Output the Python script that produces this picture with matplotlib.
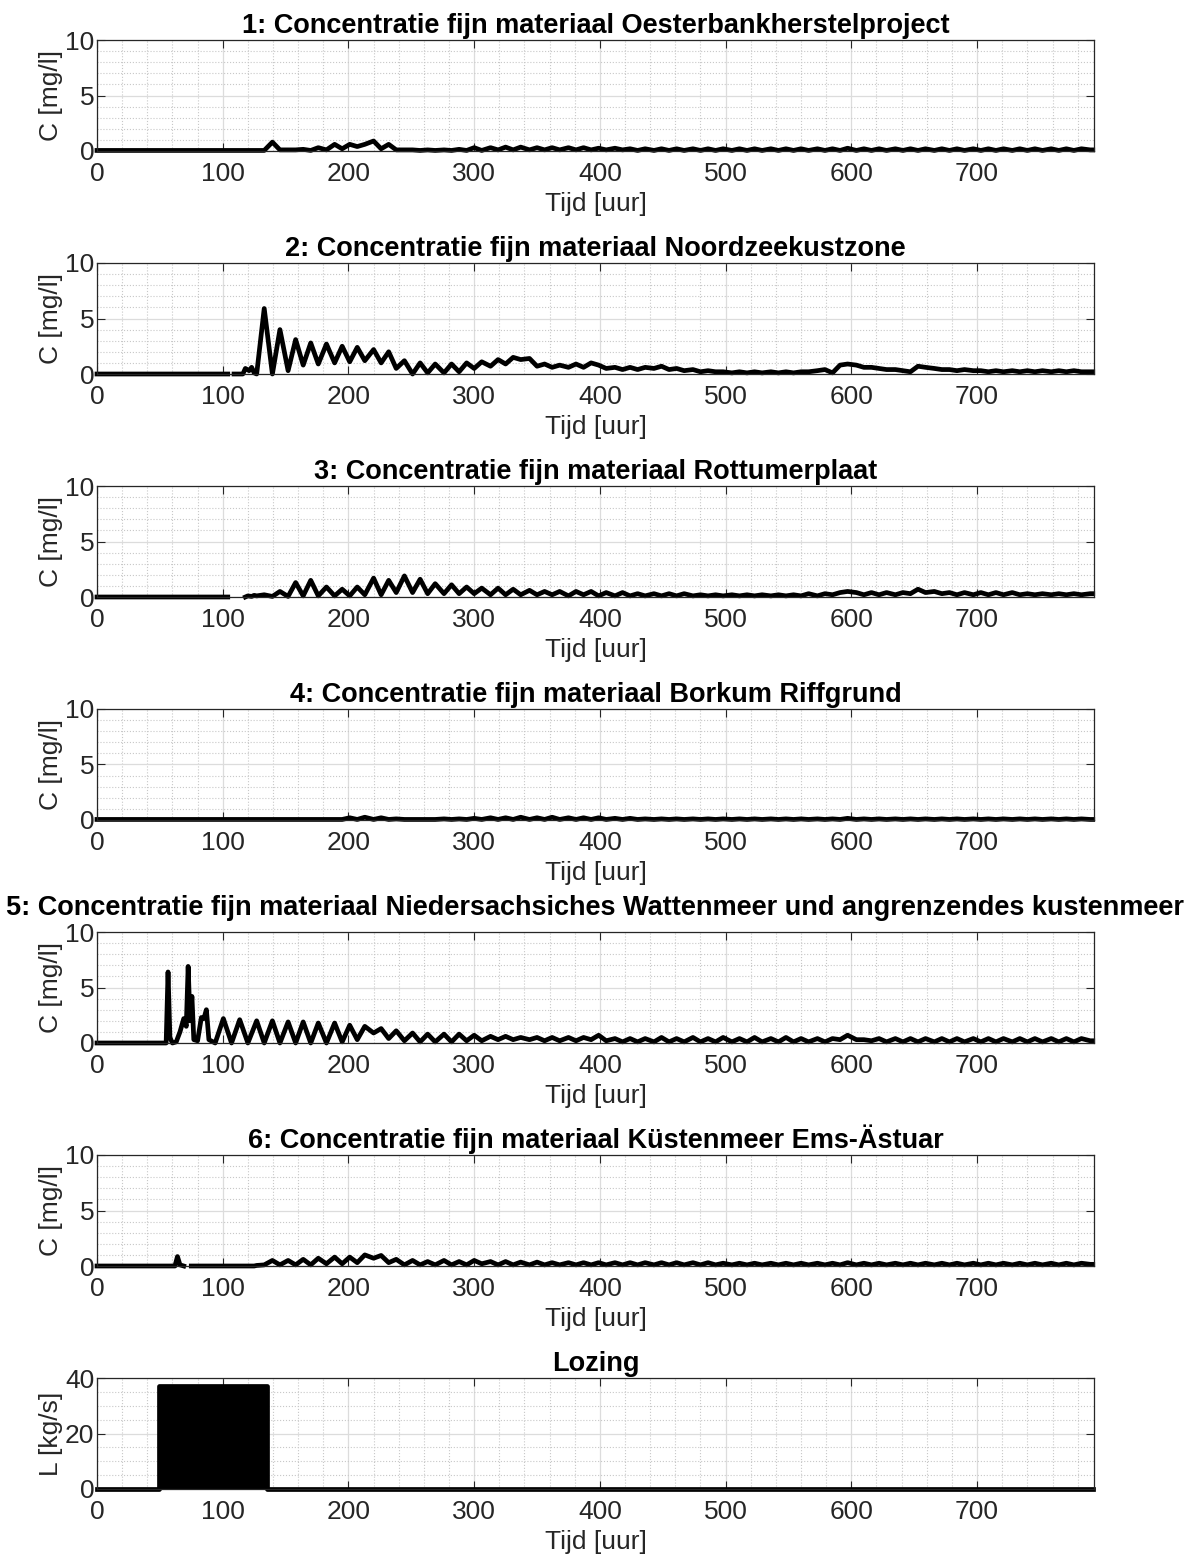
import numpy as np
import matplotlib
matplotlib.use('Agg')
import matplotlib.pyplot as plt
from matplotlib.ticker import MultipleLocator

plt.rcParams['font.family'] = ['Liberation Sans', 'DejaVu Sans']

# gedeelde tijdas (toppen en dalen van het getij), in uren
t_tide = [127, 133, 139.5, 145.5, 152, 158, 164, 170, 176, 182.5,
          189, 195, 201, 207, 213, 220, 226, 232, 238, 244.5,
          251, 257, 263, 269, 276, 282, 288, 294, 300, 306,
          313, 319, 325, 331, 337, 344, 350, 356, 362, 368,
          375, 381, 387, 393, 399, 405, 412, 418, 424, 430,
          436, 443, 449, 455, 461, 467, 474, 480, 486, 492,
          498, 505, 511, 517, 523, 529, 536, 542, 548, 554,
          560, 566, 573, 579, 585, 591, 597, 604, 610, 616,
          622, 628, 635, 641, 647, 653, 659, 666, 672, 678,
          684, 690, 697, 703, 709, 715, 721, 728, 734, 740,
          746, 752, 759, 765, 771, 777, 783, 790]

# 1: Oesterbankherstelproject
head1 = [(0, 0.05), (125, 0.05)]
c1 = [0.05, 0.05, 0.8, 0.1, 0.1, 0.1, 0.15, 0.05, 0.3, 0.1,
      0.6, 0.2, 0.6, 0.4, 0.6, 0.9, 0.2, 0.6, 0.1, 0.1,
      0.1, 0.05, 0.1, 0.05, 0.1, 0.05, 0.15, 0.05, 0.3, 0.05,
      0.3, 0.1, 0.35, 0.1, 0.35, 0.1, 0.3, 0.1, 0.3, 0.1,
      0.3, 0.1, 0.3, 0.1, 0.25, 0.1, 0.25, 0.1, 0.2, 0.05,
      0.2, 0.05, 0.2, 0.05, 0.2, 0.05, 0.2, 0.05, 0.2, 0.05,
      0.2, 0.05, 0.2, 0.05, 0.2, 0.05, 0.2, 0.05, 0.2, 0.05,
      0.2, 0.05, 0.2, 0.05, 0.2, 0.05, 0.25, 0.05, 0.2, 0.05,
      0.2, 0.05, 0.2, 0.05, 0.2, 0.05, 0.2, 0.05, 0.2, 0.05,
      0.2, 0.05, 0.2, 0.05, 0.2, 0.05, 0.2, 0.05, 0.2, 0.05,
      0.2, 0.05, 0.2, 0.05, 0.2, 0.05, 0.2, 0.1]

# 2: Noordzeekustzone
head2 = [(0, 0), (104, 0), (105, np.nan), (109, 0), (116, 0), (118, 0.5),
         (121, 0.3), (123, 0.6), (125, 0.1)]
c2 = [0.0, 5.9, 0.0, 4.0, 0.3, 3.1, 0.8, 2.8, 0.9, 2.7,
      1.0, 2.5, 1.1, 2.4, 1.2, 2.2, 1.0, 2.0, 0.5, 1.2,
      0.0, 1.0, 0.1, 0.9, 0.1, 0.9, 0.2, 1.0, 0.5, 1.1,
      0.7, 1.3, 0.9, 1.5, 1.3, 1.4, 0.7, 0.9, 0.6, 0.8,
      0.6, 0.9, 0.6, 1.0, 0.8, 0.5, 0.6, 0.4, 0.6, 0.4,
      0.6, 0.5, 0.7, 0.4, 0.5, 0.3, 0.4, 0.2, 0.3, 0.2,
      0.2, 0.1, 0.2, 0.1, 0.2, 0.1, 0.2, 0.1, 0.2, 0.1,
      0.2, 0.2, 0.3, 0.4, 0.1, 0.8, 0.9, 0.8, 0.6, 0.6,
      0.5, 0.4, 0.4, 0.3, 0.2, 0.7, 0.6, 0.5, 0.4, 0.4,
      0.3, 0.4, 0.3, 0.3, 0.2, 0.3, 0.2, 0.3, 0.2, 0.3,
      0.2, 0.3, 0.2, 0.3, 0.2, 0.3, 0.2, 0.2]

# 3: Rottumerplaat
head3 = [(0, 0), (104, 0), (105, np.nan), (107, 0), (110, np.nan), (113, 0),
         (115, np.nan), (118, 0), (120, 0.1), (123, 0.05), (125, 0.15)]
c3 = [0.1, 0.2, 0.05, 0.5, 0.05, 1.3, 0.1, 1.5, 0.1, 0.9,
      0.1, 0.7, 0.1, 0.9, 0.2, 1.7, 0.2, 1.5, 0.4, 1.9,
      0.4, 1.6, 0.3, 1.2, 0.3, 1.1, 0.3, 0.9, 0.3, 0.8,
      0.2, 0.8, 0.2, 0.7, 0.2, 0.6, 0.2, 0.5, 0.2, 0.5,
      0.1, 0.5, 0.2, 0.5, 0.1, 0.4, 0.1, 0.4, 0.1, 0.3,
      0.1, 0.3, 0.1, 0.3, 0.1, 0.3, 0.1, 0.2, 0.1, 0.2,
      0.1, 0.2, 0.1, 0.2, 0.1, 0.2, 0.1, 0.2, 0.1, 0.2,
      0.1, 0.3, 0.1, 0.3, 0.2, 0.4, 0.5, 0.4, 0.2, 0.4,
      0.2, 0.4, 0.2, 0.4, 0.3, 0.7, 0.4, 0.5, 0.3, 0.4,
      0.2, 0.4, 0.2, 0.4, 0.2, 0.4, 0.2, 0.4, 0.2, 0.3,
      0.2, 0.3, 0.2, 0.3, 0.2, 0.3, 0.2, 0.3]

# 4: Borkum Riffgrund
head4 = [(0, 0.05), (125, 0.05)]
c4 = [0.05, 0.05, 0.05, 0.05, 0.05, 0.05, 0.05, 0.05, 0.05, 0.05,
      0.05, 0.05, 0.2, 0.05, 0.25, 0.05, 0.2, 0.05, 0.1, 0.05,
      0.05, 0.05, 0.05, 0.05, 0.1, 0.05, 0.1, 0.05, 0.15, 0.05,
      0.2, 0.05, 0.2, 0.05, 0.25, 0.05, 0.2, 0.05, 0.25, 0.05,
      0.2, 0.05, 0.2, 0.05, 0.2, 0.05, 0.15, 0.05, 0.15, 0.05,
      0.1, 0.05, 0.1, 0.05, 0.1, 0.05, 0.1, 0.05, 0.1, 0.05,
      0.1, 0.05, 0.1, 0.05, 0.1, 0.05, 0.1, 0.05, 0.1, 0.05,
      0.1, 0.05, 0.1, 0.05, 0.1, 0.05, 0.15, 0.05, 0.1, 0.05,
      0.1, 0.05, 0.1, 0.05, 0.1, 0.05, 0.1, 0.05, 0.1, 0.05,
      0.1, 0.05, 0.1, 0.05, 0.1, 0.05, 0.1, 0.05, 0.1, 0.05,
      0.1, 0.05, 0.1, 0.05, 0.1, 0.05, 0.1, 0.05]

# 5: Niedersachsisches Wattenmeer
head5 = [(0, 0), (55, 0), (56.5, 6.4), (58, 0.5), (60, 0), (63, 0.1), (66, 1.0),
         (69, 2.2), (71, 1.5), (72.5, 6.9), (74, 2.0), (75.5, 4.2), (77, 0.3),
         (80, 0.2), (83, 2.3), (85, 2.2), (87, 3.0), (89, 0.3), (94, 0.0),
         (100.5, 2.2), (107, 0.0), (113.5, 2.1), (120, 0.0)]
c5 = [2.0, 0.0, 2.0, 0.0, 1.9, 0.0, 1.9, 0.0, 1.8, 0.0,
      1.8, 0.1, 1.6, 0.3, 1.5, 0.9, 1.3, 0.4, 1.1, 0.2,
      0.9, 0.1, 0.8, 0.1, 0.8, 0.1, 0.8, 0.2, 0.7, 0.2,
      0.6, 0.3, 0.6, 0.3, 0.5, 0.3, 0.5, 0.2, 0.5, 0.2,
      0.5, 0.2, 0.5, 0.3, 0.7, 0.2, 0.4, 0.1, 0.4, 0.1,
      0.4, 0.1, 0.5, 0.1, 0.4, 0.1, 0.5, 0.1, 0.4, 0.1,
      0.5, 0.1, 0.4, 0.1, 0.5, 0.1, 0.4, 0.1, 0.5, 0.1,
      0.4, 0.1, 0.4, 0.1, 0.4, 0.3, 0.7, 0.3, 0.3, 0.2,
      0.4, 0.1, 0.4, 0.1, 0.4, 0.1, 0.4, 0.1, 0.4, 0.1,
      0.4, 0.1, 0.4, 0.1, 0.4, 0.1, 0.4, 0.1, 0.4, 0.1,
      0.4, 0.1, 0.4, 0.1, 0.4, 0.1, 0.4, 0.2]

# 6: Kustenmeer Ems-Astuar
head6 = [(0, 0), (62, 0), (64, 0.85), (66, 0.1), (69, 0), (72, np.nan),
         (75, 0), (125, 0.0)]
c6 = [0.05, 0.1, 0.5, 0.1, 0.5, 0.1, 0.6, 0.1, 0.7, 0.2,
      0.8, 0.2, 0.8, 0.3, 1.0, 0.7, 0.95, 0.3, 0.6, 0.1,
      0.5, 0.1, 0.4, 0.1, 0.5, 0.1, 0.4, 0.1, 0.5, 0.2,
      0.4, 0.1, 0.4, 0.1, 0.35, 0.1, 0.35, 0.1, 0.3, 0.1,
      0.3, 0.1, 0.3, 0.1, 0.3, 0.1, 0.3, 0.1, 0.3, 0.1,
      0.3, 0.1, 0.3, 0.1, 0.3, 0.1, 0.3, 0.1, 0.3, 0.1,
      0.25, 0.1, 0.25, 0.1, 0.25, 0.1, 0.25, 0.1, 0.25, 0.1,
      0.25, 0.1, 0.25, 0.1, 0.25, 0.1, 0.3, 0.1, 0.25, 0.1,
      0.25, 0.1, 0.25, 0.1, 0.25, 0.1, 0.25, 0.1, 0.25, 0.1,
      0.25, 0.1, 0.25, 0.1, 0.25, 0.1, 0.25, 0.1, 0.25, 0.1,
      0.25, 0.1, 0.25, 0.1, 0.25, 0.1, 0.25, 0.15]

# lozing [kg/s]
t_loz = [0, 49.5, 49.5, 135, 135, 792]
L_loz = [0, 0, 37, 37, 0, 0]

titles = ['1: Concentratie fijn materiaal Oesterbankherstelproject',
          '2: Concentratie fijn materiaal Noordzeekustzone',
          '3: Concentratie fijn materiaal Rottumerplaat',
          '4: Concentratie fijn materiaal Borkum Riffgrund',
          '5: Concentratie fijn materiaal Niedersachsiches Wattenmeer und angrenzendes kustenmeer',
          '6: Concentratie fijn materiaal Küstenmeer Ems-Ästuar',
          'Lozing']

series = [(head1, c1), (head2, c2), (head3, c3), (head4, c4), (head5, c5), (head6, c6)]

W, H = 1187, 1555
fig = plt.figure(figsize=(W / 100, H / 100), dpi=100)

ax_l, ax_r = 97, 1094
ax_h = 111
dark = '#262626'
fs = 19


def style_axes(ax, ymax, ymajor, yminor):
    ax.set_xlim(0, 793)
    ax.set_ylim(0, ymax)
    ax.xaxis.set_major_locator(MultipleLocator(100))
    ax.xaxis.set_minor_locator(MultipleLocator(20))
    ax.yaxis.set_major_locator(MultipleLocator(ymajor))
    ax.yaxis.set_minor_locator(MultipleLocator(yminor))
    ax.grid(which='major', color='#dcdcdc', lw=0.9, ls='-')
    ax.grid(which='minor', color='#c8c8c8', lw=0.8, ls=':')
    ax.set_axisbelow(True)
    ax.tick_params(which='major', direction='in', length=6, width=0.8, top=True, right=True,
                   labelsize=fs, colors=dark, labelcolor=dark)
    ax.tick_params(axis='x', which='major', pad=8)
    ax.tick_params(axis='y', which='major', pad=2)
    ax.tick_params(which='minor', length=0)
    for s in ax.spines.values():
        s.set_color(dark)
        s.set_linewidth(0.9)
    ax.set_xlabel('Tijd [uur]', fontsize=fs, color=dark, labelpad=4.5)


for k in range(7):
    top = 40 + 223 * k
    ax = fig.add_axes([ax_l / W, 1 - (top + ax_h) / H, (ax_r - ax_l) / W, ax_h / H])
    if k < 6:
        head, cv = series[k]
        t = [p[0] for p in head] + t_tide + [792]
        c = [p[1] for p in head] + cv + [cv[-1]]
        ax.plot(t, c, color='black', lw=3.4, clip_on=False, solid_joinstyle='round')
        style_axes(ax, 10, 5, 1)
        ax.set_ylabel('C [mg/l]', fontsize=fs, color=dark)
    else:
        ax.fill_between(t_loz, 0, L_loz, color='black', lw=0)
        ax.plot(t_loz, L_loz, color='black', lw=3.4, clip_on=False)
        style_axes(ax, 40, 20, 5)
        ax.set_ylabel('L [kg/s]', fontsize=fs, color=dark)
    ax.yaxis.set_label_coords(-0.034, 0.5)
    ax.set_title(titles[k], fontsize=19.5, fontweight='bold', pad=5 if k != 4 else 12)

fig.savefig('out.png', dpi=100)
